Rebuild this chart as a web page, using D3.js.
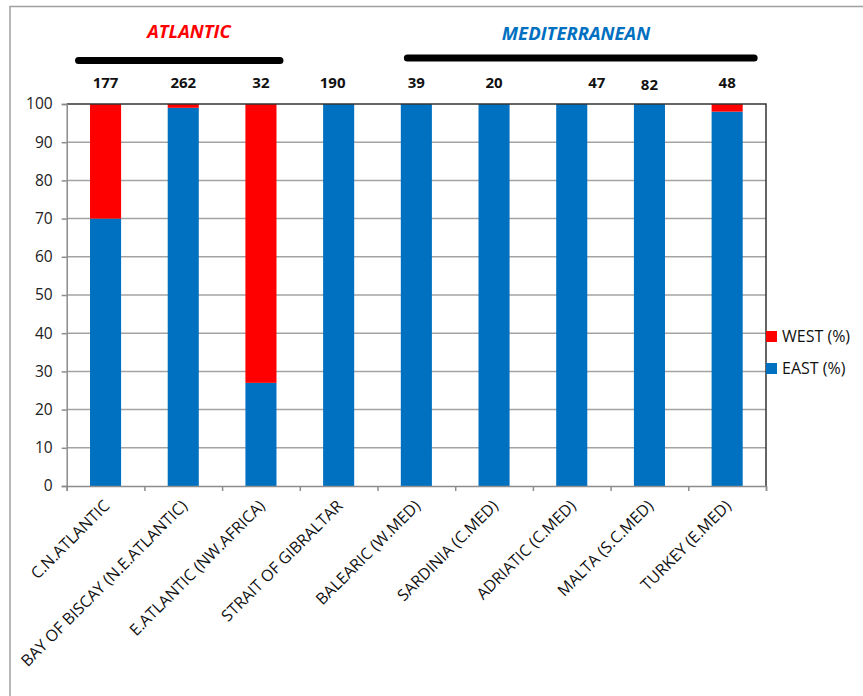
<!DOCTYPE html>
<html>
<head>
<meta charset="utf-8">
<script src="https://cdn.jsdelivr.net/npm/d3@7"></script>
<style>
  body { margin: 0; background: #fff; }
  text { font-family: "Open Sans", sans-serif; }
</style>
</head>
<body>
<div id="viz"></div>
<script>
var categories = ["C.N.ATLANTIC", "BAY OF BISCAY (N.E.ATLANTIC)", "E.ATLANTIC (NW.AFRICA)",
    "STRAIT OF GIBRALTAR", "BALEARIC (W.MED)", "SARDINIA (C.MED)", "ADRIATIC (C.MED)",
    "MALTA (S.C.MED)", "TURKEY (E.MED)"];
var eastPct = [70, 99, 27, 100, 100, 100, 100, 100, 98];
var westPct = [30, 1, 73, 0, 0, 0, 0, 0, 2];
var sampleSizes = [177, 262, 32, 190, 39, 20, 47, 82, 48];
var yTicks = [0, 10, 20, 30, 40, 50, 60, 70, 80, 90, 100];
var groupNames = ["ATLANTIC", "MEDITERRANEAN"];
var groupFirst = [0, 4];
var groupLast = [2, 8];

// layout / style
var W = 863, H = 696;
var plotLeft = 66.7, plotRight = 766, plotTop = 104, plotBottom = 486;
var colors = {east: "#0070C0", west: "#FF0000"};
var groupColors = ["#FF0000", "#0070C0"];
var sizeNudge = [0, 0, 0, -6, 0, 0, 25, 0, 0];
var lineExtend = [[27, 19], [9, 27]];

var rows = categories.map(function (c, i) {
    return {cat: c, east: eastPct[i], west: westPct[i], n: sampleSizes[i]};
});

var svg = d3.select("#viz").append("svg")
    .attr("width", W)
    .attr("height", H);

// outer frame (top and left only visible)
svg.append("path")
    .attr("d", "M10," + H + "V6.5H" + W)
    .attr("fill", "none")
    .attr("stroke", "#a0a0a0")
    .attr("stroke-width", 1.5);

var x = d3.scaleBand()
    .domain(categories)
    .range([plotLeft, plotRight])
    .paddingInner(0.6)
    .paddingOuter(0.3);

var slot = d3.scaleLinear().domain([0, categories.length]).range([plotLeft, plotRight]);

var y = d3.scaleLinear()
    .domain([0, 100])
    .range([plotBottom, plotTop]);

// gridlines
svg.append("g")
    .selectAll("line")
    .data(yTicks.filter(function (d) { return d > 0 && d < 100; }))
    .enter().append("line")
    .attr("x1", plotLeft).attr("x2", plotRight)
    .attr("y1", function (d) { return y(d); })
    .attr("y2", function (d) { return y(d); })
    .attr("stroke", "#a3a3a3")
    .attr("stroke-width", 1.5);

// stacked bars
var stack = d3.stack().keys(["east", "west"]);
var series = stack(rows);

svg.append("g")
    .selectAll("g")
    .data(series)
    .enter().append("g")
    .attr("fill", function (d) { return colors[d.key]; })
    .selectAll("rect")
    .data(function (d) { return d; })
    .enter().append("rect")
    .attr("x", function (d) { return x(d.data.cat); })
    .attr("width", x.bandwidth())
    .attr("y", function (d) { return y(d[1]); })
    .attr("height", function (d) { return y(d[0]) - y(d[1]); });

// plot border top/right
svg.append("path")
    .attr("d", "M" + plotLeft + "," + plotTop + "H" + plotRight + "V" + plotBottom)
    .attr("fill", "none")
    .attr("stroke", "#333")
    .attr("stroke-width", 1.5);

// y axis
var yAxis = svg.append("g")
    .attr("transform", "translate(" + plotLeft + ",0)")
    .call(d3.axisLeft(y).tickValues(yTicks).tickSize(5).tickPadding(9));
yAxis.select(".domain").attr("stroke", "#8c8c8c").attr("stroke-width", 1.5);
yAxis.selectAll(".tick line").attr("stroke", "#8c8c8c").attr("stroke-width", 1.5);
yAxis.selectAll(".tick text")
    .attr("font-size", "15.5px")
    .attr("font-family", "Open Sans")
    .attr("fill", "#222");

// x axis with ticks between categories
var xAxis = svg.append("g")
    .attr("transform", "translate(0," + plotBottom + ")")
    .call(d3.axisBottom(slot).ticks(categories.length).tickSize(5).tickFormat(""));
xAxis.select(".domain").attr("stroke", "#8c8c8c").attr("stroke-width", 1.5);
xAxis.selectAll(".tick line").attr("stroke", "#8c8c8c").attr("stroke-width", 1.5);

// x labels rotated
svg.append("g")
    .selectAll("text")
    .data(categories)
    .enter().append("text")
    .attr("transform", function (d) {
        return "translate(" + (x(d) + x.bandwidth() / 2 + 1) + "," + (plotBottom + 17) + ") rotate(-45)";
    })
    .attr("text-anchor", "end")
    .attr("dy", "0.35em")
    .attr("font-size", "16px")
    .attr("fill", "#111")
    .text(function (d) { return d; });

// sample sizes
svg.append("g")
    .selectAll("text")
    .data(rows)
    .enter().append("text")
    .attr("x", function (d, i) { return x(d.cat) + x.bandwidth() / 2 + sizeNudge[i]; })
    .attr("y", function (d, i) { return i === 7 ? 90 : 88; })
    .attr("text-anchor", "middle")
    .attr("font-family", "Liberation Sans")
    .attr("font-weight", "bold")
    .attr("font-size", "15px")
    .attr("fill", "#111")
    .text(function (d) { return d.n; });

// group lines and titles
groupNames.forEach(function (g, i) {
    var x0 = x(categories[groupFirst[i]]) + x.bandwidth() / 2 - lineExtend[i][0];
    var x1 = x(categories[groupLast[i]]) + x.bandwidth() / 2 + lineExtend[i][1];
    svg.append("line")
        .attr("x1", x0).attr("x2", x1)
        .attr("y1", i === 0 ? 60.5 : 58).attr("y2", i === 0 ? 60.5 : 58)
        .attr("stroke", "#000")
        .attr("stroke-width", 7)
        .attr("stroke-linecap", "round");
    svg.append("text")
        .attr("x", i === 0 ? 189 : 576)
        .attr("y", i === 0 ? 38 : 40)
        .attr("text-anchor", "middle")
        .attr("font-family", "Liberation Sans")
        .attr("font-style", "italic")
        .attr("font-weight", "bold")
        .attr("font-size", "18.5px")
        .attr("fill", groupColors[i])
        .text(g);
});

// legend
var legendKeys = [["west", "WEST (%)"], ["east", "EAST (%)"]];
var legend = svg.append("g").selectAll("g")
    .data(legendKeys)
    .enter().append("g")
    .attr("transform", function (d, i) { return "translate(766," + (331 + i * 32) + ")"; });
legend.append("rect")
    .attr("width", 11).attr("height", 11)
    .attr("fill", function (d) { return colors[d[0]]; });
legend.append("text")
    .attr("x", 16).attr("y", 5.5)
    .attr("dy", "0.35em")
    .attr("font-size", "16px")
    .attr("fill", "#111")
    .text(function (d) { return d[1]; });
</script>
</body>
</html>
